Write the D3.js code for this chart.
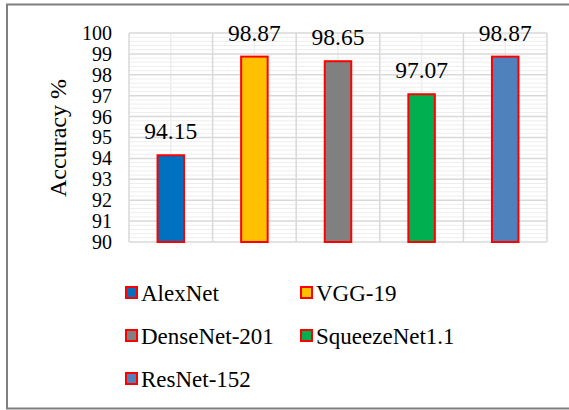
<!DOCTYPE html>
<html>
<head>
<meta charset="utf-8">
<script src="https://cdn.jsdelivr.net/npm/d3@7"></script>
<style>
  body { margin: 0; background: #fff; }
</style>
</head>
<body>
<div id="chart"></div>
<script>
// data
var models = ["AlexNet", "VGG-19", "DenseNet-201", "SqueezeNet1.1", "ResNet-152"];
var accuracy = [94.15, 98.87, 98.65, 97.07, 98.87];
var barColors = ["#0070C0", "#FFC000", "#808080", "#00B050", "#4F81BD"];
var yTicks = [90, 91, 92, 93, 94, 95, 96, 97, 98, 99, 100];

var width = 569, height = 410;
var margin = {top: 33, left: 129, right: 22, bottom: 168};
var serif = "'Liberation Serif', 'Times New Roman', serif";

var svg = d3.select("#chart").append("svg")
    .attr("width", width)
    .attr("height", height)
    .style("font-family", serif);

// outer frame (right edge falls off the picture)
svg.append("rect")
    .attr("x", 7).attr("y", 4.5)
    .attr("width", 570).attr("height", 404)
    .attr("fill", "none")
    .attr("stroke", "#7f7f7f")
    .attr("stroke-width", 2);

var x = d3.scaleBand()
    .domain(models)
    .range([margin.left, width - margin.right])
    .paddingInner(0).paddingOuter(0);

var y = d3.scaleLinear()
    .domain([90, 100])
    .range([height - margin.bottom, margin.top]);

var grid = svg.append("g");

// minor horizontal lines
var minor = d3.range(90, 100.001, 0.2).filter(function(v){ return Math.abs(v - Math.round(v)) > 0.01; });
grid.selectAll("line.minor")
    .data(minor).enter().append("line")
    .attr("x1", x.range()[0]).attr("x2", x.range()[1])
    .attr("y1", d => y(d)).attr("y2", d => y(d))
    .attr("stroke", "#eeeeee").attr("stroke-width", 1);

// vertical center lines
grid.selectAll("line.vc")
    .data(models).enter().append("line")
    .attr("x1", d => x(d) + x.bandwidth() / 2).attr("x2", d => x(d) + x.bandwidth() / 2)
    .attr("y1", y(100)).attr("y2", y(90))
    .attr("stroke", "#eeeeee").attr("stroke-width", 1.5);

// vertical band lines
var edges = models.map(d => x(d)).concat([x.range()[1]]);
grid.selectAll("line.vb")
    .data(edges).enter().append("line")
    .attr("x1", d => d).attr("x2", d => d)
    .attr("y1", y(100)).attr("y2", y(90))
    .attr("stroke", "#d9d9d9").attr("stroke-width", 1.5);

// major horizontal lines
grid.selectAll("line.major")
    .data(yTicks).enter().append("line")
    .attr("x1", x.range()[0]).attr("x2", x.range()[1])
    .attr("y1", d => y(d)).attr("y2", d => y(d))
    .attr("stroke", "#d9d9d9").attr("stroke-width", 1.5);

// y axis labels
var yAxis = svg.append("g")
    .attr("transform", "translate(" + (margin.left - 17) + ",0)")
    .call(d3.axisLeft(y).tickValues(yTicks).tickSize(0).tickPadding(0));
yAxis.attr("font-family", null);
yAxis.select(".domain").remove();
yAxis.selectAll("text")
    .style("font-family", serif)
    .attr("font-size", 20)
    .attr("fill", "#000");

svg.append("text")
    .attr("transform", "translate(66,138) rotate(-90)")
    .attr("text-anchor", "middle")
    .style("font-family", serif)
    .attr("font-size", 24)
    .text("Accuracy %");

// bars
var barW = 26.5;
svg.selectAll("rect.bar")
    .data(models).enter().append("rect")
    .attr("x", d => x(d) + x.bandwidth() / 2 - barW / 2)
    .attr("y", (d, i) => y(accuracy[i]))
    .attr("width", barW)
    .attr("height", (d, i) => y(90) - y(accuracy[i]))
    .attr("fill", (d, i) => barColors[i])
    .attr("stroke", "#FF0000")
    .attr("stroke-width", 2);

// value labels
svg.selectAll("text.val")
    .data(models).enter().append("text")
    .attr("x", d => x(d) + x.bandwidth() / 2)
    .attr("y", (d, i) => y(accuracy[i]) - 16)
    .attr("text-anchor", "middle")
    .style("font-family", serif)
    .attr("font-size", 23.5)
    .text((d, i) => accuracy[i].toFixed(2));

// legend
var legend = svg.selectAll("g.leg")
    .data(models).enter().append("g")
    .attr("transform", (d, i) => "translate(" + (i % 2 ? 300 : 125) + "," + (292.5 + Math.floor(i / 2) * 43) + ")");
legend.append("rect")
    .attr("x", 1).attr("y", -5.5)
    .attr("width", 11).attr("height", 11)
    .attr("fill", (d, i) => barColors[i])
    .attr("stroke", "#FF0000")
    .attr("stroke-width", 2);
legend.append("text")
    .attr("x", 16).attr("y", 8)
    .style("font-family", serif)
    .attr("font-size", 23)
    .text(d => d);
</script>
</body>
</html>
